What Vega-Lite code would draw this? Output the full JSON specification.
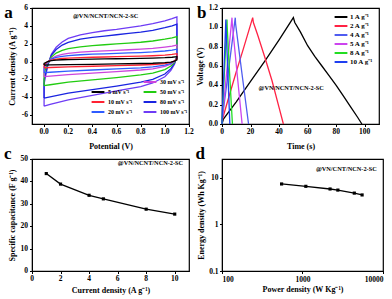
{
"$schema":"https://vega.github.io/schema/vega-lite/v6.json",
"padding":{"left":3,"top":3,"right":0,"bottom":0},
"bounds":"flush",
"columns":2,
"spacing":{"row":35,"column":33},
"resolve":{"scale":{"color":"independent"},"legend":{"color":"independent"}},
"concat":[
{"width":157,"height":116,
"encoding":{
"x":{"type":"quantitative","scale":{"domain":[-0.1,1.2],"nice":false,"zero":false},"axis":{"title":"Potential (V)","values":[0,0.2,0.4,0.6,0.8,1.0,1.2],"labels":false,"titlePadding":15}},
"y":{"type":"quantitative","scale":{"domain":[-7,6],"nice":false,"zero":false},"axis":{"title":"Current density (A g⁻¹)","values":[-6,-4,-2,0,2,4,6],"labels":false,"titlePadding":12.5}}
},
"layer":[
{"data":{"values":[
{"s":"100","v":0,"i":-5.0},{"s":"100","v":0,"i":-2.5},{"s":"100","v":0.03,"i":-0.5},{"s":"100","v":0.06,"i":0.8},{"s":"100","v":0.1,"i":1.6},{"s":"100","v":0.15,"i":2.2},{"s":"100","v":0.2,"i":2.6},{"s":"100","v":0.3,"i":3.0},{"s":"100","v":0.4,"i":3.25},{"s":"100","v":0.5,"i":3.45},{"s":"100","v":0.6,"i":3.6},{"s":"100","v":0.7,"i":3.8},{"s":"100","v":0.8,"i":4.0},{"s":"100","v":0.9,"i":4.25},{"s":"100","v":1.0,"i":4.55},{"s":"100","v":1.06,"i":4.8},{"s":"100","v":1.1,"i":5.0},{"s":"100","v":1.1,"i":0.6},{"s":"100","v":1.08,"i":-0.3},{"s":"100","v":1.05,"i":-1.0},{"s":"100","v":1.0,"i":-1.7},{"s":"100","v":0.9,"i":-2.4},{"s":"100","v":0.8,"i":-2.8},{"s":"100","v":0.6,"i":-3.3},{"s":"100","v":0.4,"i":-3.8},{"s":"100","v":0.2,"i":-4.3},{"s":"100","v":0.05,"i":-4.8},{"s":"100","v":0,"i":-5.0},
{"s":"80","v":0,"i":-4.1},{"s":"80","v":0,"i":-2.0},{"s":"80","v":0.03,"i":-0.4},{"s":"80","v":0.06,"i":0.7},{"s":"80","v":0.1,"i":1.35},{"s":"80","v":0.15,"i":1.85},{"s":"80","v":0.2,"i":2.15},{"s":"80","v":0.3,"i":2.5},{"s":"80","v":0.4,"i":2.7},{"s":"80","v":0.5,"i":2.85},{"s":"80","v":0.6,"i":3.0},{"s":"80","v":0.7,"i":3.15},{"s":"80","v":0.8,"i":3.3},{"s":"80","v":0.9,"i":3.5},{"s":"80","v":1.0,"i":3.8},{"s":"80","v":1.06,"i":4.0},{"s":"80","v":1.1,"i":4.2},{"s":"80","v":1.1,"i":0.6},{"s":"80","v":1.08,"i":-0.2},{"s":"80","v":1.05,"i":-0.8},{"s":"80","v":1.0,"i":-1.4},{"s":"80","v":0.9,"i":-2.0},{"s":"80","v":0.8,"i":-2.3},{"s":"80","v":0.6,"i":-2.75},{"s":"80","v":0.4,"i":-3.15},{"s":"80","v":0.2,"i":-3.55},{"s":"80","v":0.05,"i":-3.95},{"s":"80","v":0,"i":-4.1},
{"s":"50","v":0,"i":-2.7},{"s":"50","v":0,"i":-1.3},{"s":"50","v":0.03,"i":-0.2},{"s":"50","v":0.06,"i":0.5},{"s":"50","v":0.1,"i":0.95},{"s":"50","v":0.15,"i":1.25},{"s":"50","v":0.2,"i":1.45},{"s":"50","v":0.3,"i":1.65},{"s":"50","v":0.4,"i":1.78},{"s":"50","v":0.5,"i":1.88},{"s":"50","v":0.6,"i":1.97},{"s":"50","v":0.7,"i":2.06},{"s":"50","v":0.8,"i":2.16},{"s":"50","v":0.9,"i":2.3},{"s":"50","v":1.0,"i":2.5},{"s":"50","v":1.06,"i":2.65},{"s":"50","v":1.1,"i":2.8},{"s":"50","v":1.1,"i":0.5},{"s":"50","v":1.08,"i":-0.1},{"s":"50","v":1.05,"i":-0.5},{"s":"50","v":1.0,"i":-0.9},{"s":"50","v":0.9,"i":-1.3},{"s":"50","v":0.8,"i":-1.5},{"s":"50","v":0.6,"i":-1.8},{"s":"50","v":0.4,"i":-2.05},{"s":"50","v":0.2,"i":-2.3},{"s":"50","v":0.05,"i":-2.6},{"s":"50","v":0,"i":-2.7},
{"s":"30","v":0,"i":-1.7},{"s":"30","v":0,"i":-0.8},{"s":"30","v":0.03,"i":-0.1},{"s":"30","v":0.06,"i":0.35},{"s":"30","v":0.1,"i":0.62},{"s":"30","v":0.15,"i":0.8},{"s":"30","v":0.2,"i":0.92},{"s":"30","v":0.3,"i":1.05},{"s":"30","v":0.4,"i":1.13},{"s":"30","v":0.5,"i":1.2},{"s":"30","v":0.6,"i":1.26},{"s":"30","v":0.7,"i":1.32},{"s":"30","v":0.8,"i":1.39},{"s":"30","v":0.9,"i":1.48},{"s":"30","v":1.0,"i":1.62},{"s":"30","v":1.06,"i":1.72},{"s":"30","v":1.1,"i":1.85},{"s":"30","v":1.1,"i":0.4},{"s":"30","v":1.08,"i":0.0},{"s":"30","v":1.05,"i":-0.3},{"s":"30","v":1.0,"i":-0.55},{"s":"30","v":0.9,"i":-0.82},{"s":"30","v":0.8,"i":-0.95},{"s":"30","v":0.6,"i":-1.13},{"s":"30","v":0.4,"i":-1.3},{"s":"30","v":0.2,"i":-1.46},{"s":"30","v":0.05,"i":-1.63},{"s":"30","v":0,"i":-1.7},
{"s":"20","v":0,"i":-1.25},{"s":"20","v":0,"i":-0.6},{"s":"20","v":0.03,"i":-0.05},{"s":"20","v":0.06,"i":0.27},{"s":"20","v":0.1,"i":0.46},{"s":"20","v":0.15,"i":0.58},{"s":"20","v":0.2,"i":0.66},{"s":"20","v":0.3,"i":0.76},{"s":"20","v":0.4,"i":0.82},{"s":"20","v":0.5,"i":0.87},{"s":"20","v":0.6,"i":0.91},{"s":"20","v":0.7,"i":0.96},{"s":"20","v":0.8,"i":1.01},{"s":"20","v":0.9,"i":1.08},{"s":"20","v":1.0,"i":1.18},{"s":"20","v":1.06,"i":1.27},{"s":"20","v":1.1,"i":1.38},{"s":"20","v":1.1,"i":0.35},{"s":"20","v":1.08,"i":0.05},{"s":"20","v":1.05,"i":-0.2},{"s":"20","v":1.0,"i":-0.4},{"s":"20","v":0.9,"i":-0.6},{"s":"20","v":0.8,"i":-0.7},{"s":"20","v":0.6,"i":-0.83},{"s":"20","v":0.4,"i":-0.95},{"s":"20","v":0.2,"i":-1.07},{"s":"20","v":0.05,"i":-1.2},{"s":"20","v":0,"i":-1.25},
{"s":"10","v":0,"i":-0.7},{"s":"10","v":0,"i":-0.35},{"s":"10","v":0.03,"i":0.0},{"s":"10","v":0.06,"i":0.17},{"s":"10","v":0.1,"i":0.27},{"s":"10","v":0.15,"i":0.34},{"s":"10","v":0.2,"i":0.38},{"s":"10","v":0.3,"i":0.44},{"s":"10","v":0.4,"i":0.48},{"s":"10","v":0.5,"i":0.51},{"s":"10","v":0.6,"i":0.54},{"s":"10","v":0.7,"i":0.57},{"s":"10","v":0.8,"i":0.6},{"s":"10","v":0.9,"i":0.65},{"s":"10","v":1.0,"i":0.72},{"s":"10","v":1.06,"i":0.8},{"s":"10","v":1.1,"i":0.88},{"s":"10","v":1.1,"i":0.3},{"s":"10","v":1.08,"i":0.08},{"s":"10","v":1.05,"i":-0.1},{"s":"10","v":1.0,"i":-0.22},{"s":"10","v":0.9,"i":-0.33},{"s":"10","v":0.8,"i":-0.39},{"s":"10","v":0.6,"i":-0.46},{"s":"10","v":0.4,"i":-0.53},{"s":"10","v":0.2,"i":-0.6},{"s":"10","v":0.05,"i":-0.67},{"s":"10","v":0,"i":-0.7},
{"s":"5","v":0,"i":-0.4},{"s":"5","v":0,"i":-0.2},{"s":"5","v":0.03,"i":0.0},{"s":"5","v":0.06,"i":0.1},{"s":"5","v":0.1,"i":0.16},{"s":"5","v":0.15,"i":0.2},{"s":"5","v":0.2,"i":0.22},{"s":"5","v":0.3,"i":0.25},{"s":"5","v":0.4,"i":0.27},{"s":"5","v":0.5,"i":0.29},{"s":"5","v":0.6,"i":0.31},{"s":"5","v":0.7,"i":0.33},{"s":"5","v":0.8,"i":0.35},{"s":"5","v":0.9,"i":0.38},{"s":"5","v":1.0,"i":0.43},{"s":"5","v":1.06,"i":0.48},{"s":"5","v":1.1,"i":0.55},{"s":"5","v":1.1,"i":0.2},{"s":"5","v":1.08,"i":0.05},{"s":"5","v":1.05,"i":-0.06},{"s":"5","v":1.0,"i":-0.13},{"s":"5","v":0.9,"i":-0.19},{"s":"5","v":0.8,"i":-0.22},{"s":"5","v":0.6,"i":-0.27},{"s":"5","v":0.4,"i":-0.31},{"s":"5","v":0.2,"i":-0.35},{"s":"5","v":0.05,"i":-0.38},{"s":"5","v":0,"i":-0.4}
]},
"mark":{"type":"line","strokeWidth":1.3},
"encoding":{
"x":{"field":"v"},
"y":{"field":"i"},
"color":{"field":"s","type":"nominal","scale":{"domain":["z","5","10","20","30","50","80","100"],"range":["transparent","#000000","#ff2233","#2f5cff","#cc44dd","#22cc11","#1a24e0","#6e3cf5"]},
"legend":{"orient":"none","legendX":61,"legendY":69,"columns":2,"title":null,"symbolType":"M-1.6,0H1.6","symbolStrokeWidth":2,"symbolSize":64,"labelFontSize":6,"labelFont":"Liberation Serif","labelFontWeight":"bold","labelColor":"#000","rowPadding":1,"columnPadding":6,"labelOffset":5,"padding":0,"labelExpr":"datum.label == 'z' ? '' : datum.label + ' mV s⁻¹'"}},
"order":{"value":null}
}},
{"data":{"values":[{"v":0,"l":"0.0"},{"v":0.2,"l":"0.2"},{"v":0.4,"l":"0.4"},{"v":0.6,"l":"0.6"},{"v":0.8,"l":"0.8"},{"v":1.0,"l":"1.0"},{"v":1.2,"l":"1.2"}]},
"mark":{"type":"text","font":"Liberation Serif","fontWeight":"bold","fontSize":7.5,"color":"#000","baseline":"top","dy":4,"clip":false},
"encoding":{"x":{"field":"v"},"y":{"datum":-7},"text":{"field":"l"}}},
{"data":{"values":[{"i":-6,"l":"-6"},{"i":-4,"l":"-4"},{"i":-2,"l":"-2"},{"i":0,"l":"0"},{"i":2,"l":"2"},{"i":4,"l":"4"},{"i":6,"l":"6"}]},
"mark":{"type":"text","font":"Liberation Serif","fontWeight":"bold","fontSize":7.5,"color":"#000","align":"right","baseline":"middle","dx":-4,"clip":false},
"encoding":{"y":{"field":"i"},"x":{"datum":-0.1},"text":{"field":"l"}}},
{"data":{"values":[{}]},"mark":{"type":"text","font":"Liberation Serif","fontWeight":"bold","fontSize":6.3,"color":"#000"},
"encoding":{"x":{"datum":0.51},"y":{"datum":5.1},"text":{"value":"@VN/NCNT/NCN-2-SC"}}},
{"data":{"values":[{}]},"mark":{"type":"text","font":"Liberation Serif","fontWeight":"bold","fontSize":17,"color":"#000","align":"left","baseline":"alphabetic","clip":false},
"encoding":{"x":{"datum":-0.33},"y":{"datum":4.9},"text":{"value":"a"}}}
]},
{"width":157,"height":116,
"encoding":{
"x":{"type":"quantitative","scale":{"domain":[0,110],"nice":false},"axis":{"title":"Time (s)","values":[0,20,40,60,80,100],"labels":false,"titlePadding":15}},
"y":{"type":"quantitative","scale":{"domain":[0,1.2],"nice":false},"axis":{"title":"Voltage (V)","values":[0,0.2,0.4,0.6,0.8,1.0,1.2],"labels":false,"titlePadding":15}}
},
"layer":[
{"data":{"values":[
{"s":"1","t":0,"u":0},{"s":"1","t":1,"u":0.05},{"s":"1","t":5,"u":0.13},{"s":"1","t":10,"u":0.23},{"s":"1","t":20,"u":0.44},{"s":"1","t":30,"u":0.65},{"s":"1","t":40,"u":0.87},{"s":"1","t":50,"u":1.1},{"s":"1","t":51,"u":1.05},{"s":"1","t":55,"u":0.95},{"s":"1","t":60,"u":0.81},{"s":"1","t":65,"u":0.7},{"s":"1","t":70,"u":0.6},{"s":"1","t":75,"u":0.5},{"s":"1","t":80,"u":0.4},{"s":"1","t":85,"u":0.29},{"s":"1","t":90,"u":0.18},{"s":"1","t":95,"u":0.07},{"s":"1","t":98,"u":0},
{"s":"2","t":0,"u":0},{"s":"2","t":0.5,"u":0.06},{"s":"2","t":5,"u":0.29},{"s":"2","t":10,"u":0.54},{"s":"2","t":15,"u":0.78},{"s":"2","t":21.5,"u":1.1},{"s":"2","t":22,"u":1.05},{"s":"2","t":25,"u":0.92},{"s":"2","t":30,"u":0.69},{"s":"2","t":35,"u":0.45},{"s":"2","t":40,"u":0.17},{"s":"2","t":43,"u":0},
{"s":"4","t":0,"u":0},{"s":"4","t":0.3,"u":0.07},{"s":"4","t":4.7,"u":0.57},{"s":"4","t":9.3,"u":1.1},{"s":"4","t":9.5,"u":1.04},{"s":"4","t":14,"u":0.52},{"s":"4","t":18.6,"u":0},
{"s":"5","t":0,"u":0},{"s":"5","t":0.3,"u":0.07},{"s":"5","t":3.5,"u":0.57},{"s":"5","t":7,"u":1.1},{"s":"5","t":7.2,"u":1.04},{"s":"5","t":10.6,"u":0.52},{"s":"5","t":14.1,"u":0},
{"s":"8","t":0,"u":0},{"s":"8","t":0.2,"u":0.08},{"s":"8","t":1.8,"u":0.57},{"s":"8","t":3.5,"u":1.08},{"s":"8","t":3.65,"u":1.0},{"s":"8","t":5.4,"u":0.5},{"s":"8","t":7.3,"u":0},
{"s":"10","t":0,"u":0},{"s":"10","t":0.15,"u":0.09},{"s":"10","t":1.4,"u":0.57},{"s":"10","t":2.7,"u":1.08},{"s":"10","t":2.85,"u":0.99},{"s":"10","t":4.2,"u":0.5},{"s":"10","t":5.5,"u":0}
]},
"mark":{"type":"line","strokeWidth":1.3},
"encoding":{
"x":{"field":"t"},
"y":{"field":"u"},
"color":{"field":"s","type":"nominal","scale":{"domain":["1","2","4","5","8","10"],"range":["#000000","#ff2244","#4f5cf0","#cc44ee","#22dd22","#1f3ff0"]},
"legend":{"orient":"none","legendX":114,"legendY":4,"title":null,"symbolType":"M-1.6,0H1.6","symbolStrokeWidth":2,"symbolSize":64,"labelFontSize":7,"labelFont":"Liberation Serif","labelFontWeight":"bold","labelColor":"#000","rowPadding":0,"labelOffset":4,"padding":0,"labelExpr":"datum.label + ' A g⁻¹'"}},
"order":{"value":null}
}},
{"data":{"values":[{"t":0,"l":"0"},{"t":20,"l":"20"},{"t":40,"l":"40"},{"t":60,"l":"60"},{"t":80,"l":"80"},{"t":100,"l":"100"}]},
"mark":{"type":"text","font":"Liberation Serif","fontWeight":"bold","fontSize":7.5,"color":"#000","baseline":"top","dy":4,"clip":false},
"encoding":{"x":{"field":"t"},"y":{"datum":0},"text":{"field":"l"}}},
{"data":{"values":[{"u":0,"l":"0.0"},{"u":0.2,"l":"0.2"},{"u":0.4,"l":"0.4"},{"u":0.6,"l":"0.6"},{"u":0.8,"l":"0.8"},{"u":1.0,"l":"1.0"},{"u":1.2,"l":"1.2"}]},
"mark":{"type":"text","font":"Liberation Serif","fontWeight":"bold","fontSize":7.5,"color":"#000","align":"right","baseline":"middle","dx":-4,"clip":false},
"encoding":{"y":{"field":"u"},"x":{"datum":0},"text":{"field":"l"}}},
{"data":{"values":[{}]},"mark":{"type":"text","font":"Liberation Serif","fontWeight":"bold","fontSize":6.3,"color":"#000"},
"encoding":{"x":{"datum":48.5},"y":{"datum":0.37},"text":{"value":"@VN/NCNT/NCN-2-SC"}}},
{"data":{"values":[{}]},"mark":{"type":"text","font":"Liberation Serif","fontWeight":"bold","fontSize":17,"color":"#000","align":"left","baseline":"alphabetic","clip":false},
"encoding":{"x":{"datum":-17.5},"y":{"datum":1.1},"text":{"value":"b"}}}
]},
{"width":157,"height":112,
"encoding":{
"x":{"type":"quantitative","scale":{"domain":[0,11],"nice":false},"axis":{"title":"Current density (A g⁻¹)","values":[0,2,4,6,8,10],"labels":false,"titlePadding":12}},
"y":{"type":"quantitative","scale":{"domain":[0,50],"nice":false},"axis":{"title":"Specific capacitance (F g⁻¹)","values":[0,10,20,30,40,50],"labels":false,"titlePadding":13}}
},
"layer":[
{"data":{"values":[{"c":1,"s":43.5},{"c":2,"s":38.8},{"c":4,"s":33.8},{"c":5,"s":32.2},{"c":8,"s":27.6},{"c":10,"s":25.4}]},
"mark":{"type":"line","color":"#000","strokeWidth":1.3,"point":{"shape":"square","filled":true,"size":10,"color":"#000"}},
"encoding":{"x":{"field":"c"},"y":{"field":"s"}}},
{"data":{"values":[{"c":0,"l":"0"},{"c":2,"l":"2"},{"c":4,"l":"4"},{"c":6,"l":"6"},{"c":8,"l":"8"},{"c":10,"l":"10"}]},
"mark":{"type":"text","font":"Liberation Serif","fontWeight":"bold","fontSize":7.5,"color":"#000","baseline":"top","dy":4,"clip":false},
"encoding":{"x":{"field":"c"},"y":{"datum":0},"text":{"field":"l"}}},
{"data":{"values":[{"s":0,"l":"0"},{"s":10,"l":"10"},{"s":20,"l":"20"},{"s":30,"l":"30"},{"s":40,"l":"40"},{"s":50,"l":"50"}]},
"mark":{"type":"text","font":"Liberation Serif","fontWeight":"bold","fontSize":7.5,"color":"#000","align":"right","baseline":"middle","dx":-4,"clip":false},
"encoding":{"y":{"field":"s"},"x":{"datum":0},"text":{"field":"l"}}},
{"data":{"values":[{}]},"mark":{"type":"text","font":"Liberation Serif","fontWeight":"bold","fontSize":6.3,"color":"#000"},
"encoding":{"x":{"datum":8.3},"y":{"datum":48.3},"text":{"value":"@VN/NCNT/NCN-2-SC"}}},
{"data":{"values":[{}]},"mark":{"type":"text","font":"Liberation Serif","fontWeight":"bold","fontSize":17,"color":"#000","align":"left","baseline":"alphabetic","clip":false},
"encoding":{"x":{"datum":-1.96},"y":{"datum":50},"text":{"value":"c"}}}
]},
{"width":161,"height":112,
"layer":[
{"data":{"values":[{"p":550,"e":7.3},{"p":1100,"e":6.5},{"p":2200,"e":5.7},{"p":2750,"e":5.4},{"p":4400,"e":4.65},{"p":5500,"e":4.25}]},
"mark":{"type":"line","color":"#000","strokeWidth":1.3,"point":{"shape":"square","filled":true,"size":10,"color":"#000"}},
"encoding":{
"x":{"field":"p","type":"quantitative","scale":{"type":"log","domain":[100,10000],"nice":false},"axis":{"title":"Power density (W Kg⁻¹)","values":[100,1000,10000],"format":"d","titlePadding":3}},
"y":{"field":"e","type":"quantitative","scale":{"type":"log","domain":[0.1,25],"nice":false},"axis":{"title":"Energy density (Wh Kg⁻¹)","values":[0.1,1,10],"format":"~g","titlePadding":3}}
}},
{"data":{"values":[{}]},"mark":{"type":"text","font":"Liberation Serif","fontWeight":"bold","fontSize":6.3,"color":"#000"},
"encoding":{"x":{"datum":3500},"y":{"datum":15.5},"text":{"value":"@VN/CNT/NCN-2-SC"}}},
{"data":{"values":[{}]},"mark":{"type":"text","font":"Liberation Serif","fontWeight":"bold","fontSize":17,"color":"#000","align":"left","baseline":"alphabetic","clip":false},
"encoding":{"x":{"datum":47},"y":{"datum":25},"text":{"value":"d"}}}
]}
],
"config":{
"font":"Liberation Serif",
"view":{"stroke":"#000","strokeWidth":1.2},
"axis":{"labelFont":"Liberation Serif","labelFontWeight":"bold","labelFontSize":7.5,"labelColor":"#000","titleFont":"Liberation Serif","titleFontWeight":"bold","titleFontSize":8,"titleColor":"#000","domainColor":"#000","tickColor":"#000","tickSize":2.5,"grid":false,"labelPadding":1.5}
}
}
